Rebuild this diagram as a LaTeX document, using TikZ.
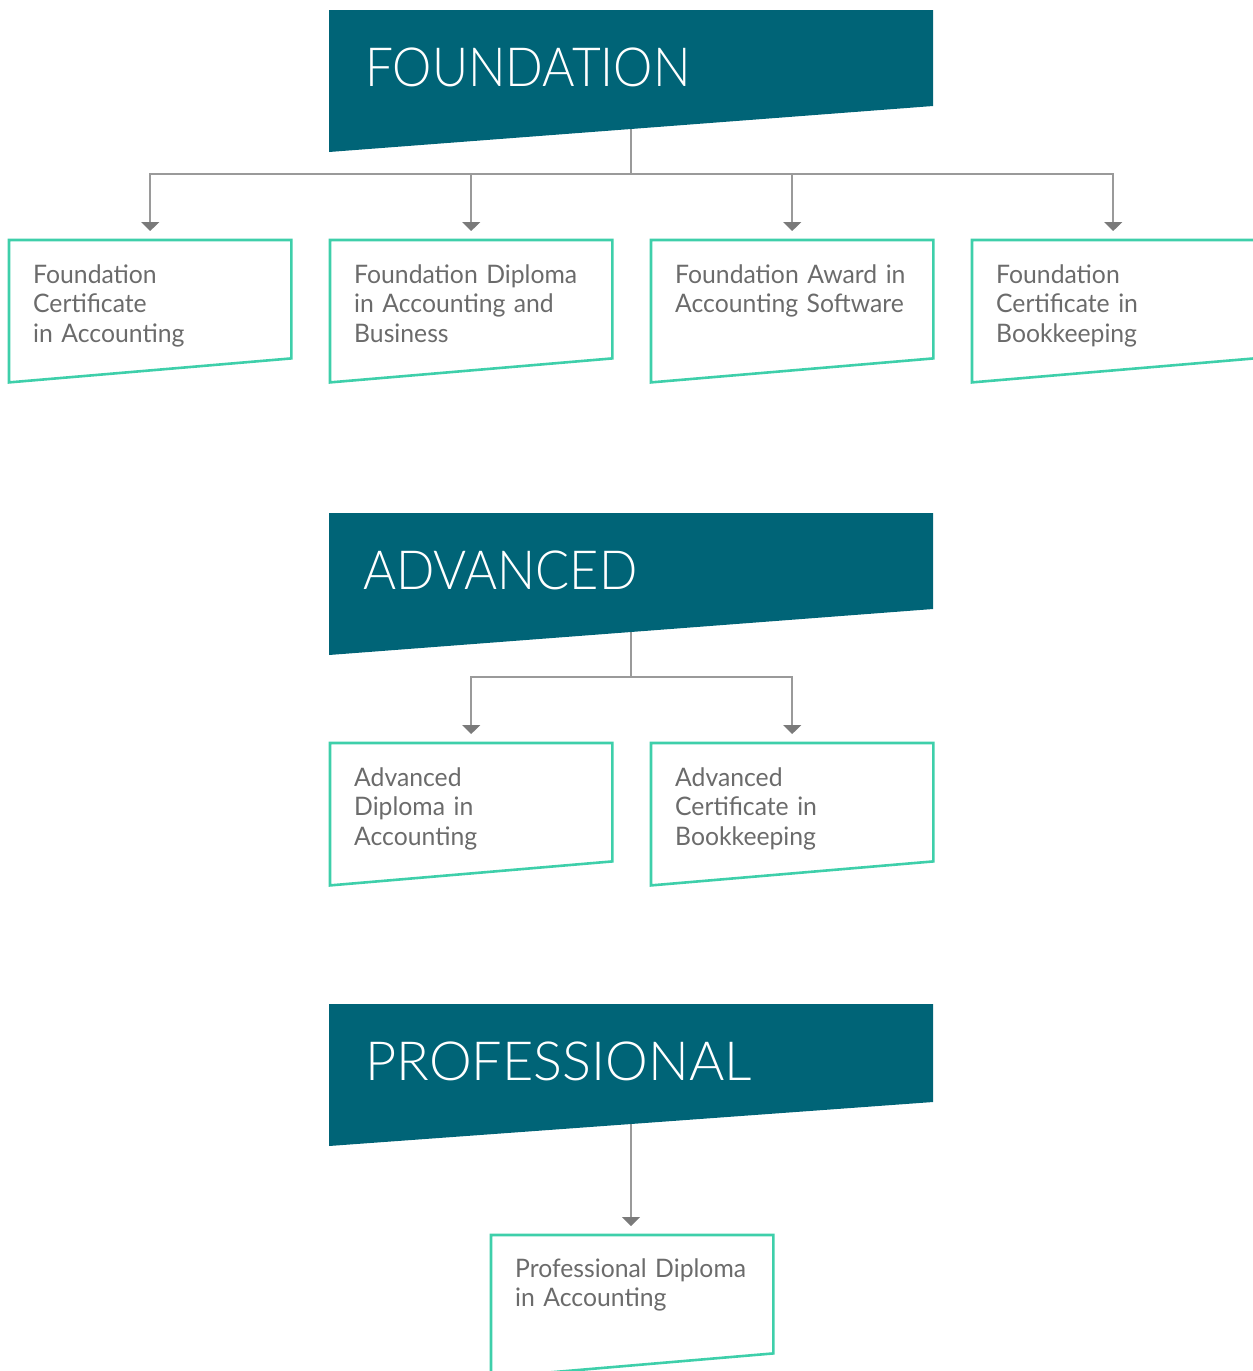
\documentclass[tikz,border=0pt]{standalone}
\usepackage{graphicx}
\usepackage{fontspec}
\setmainfont{Lato}[FakeStretch=0.97]
\newfontfamily\headfont{Lato Light}
\usetikzlibrary{arrows.meta,calc}
\definecolor{hdr}{HTML}{006477}
\definecolor{boxc}{HTML}{3ECFAA}
\definecolor{linec}{HTML}{9A9A9A}
\definecolor{tipc}{HTML}{7A7A7A}
\definecolor{txtc}{HTML}{6B6B6B}
\begin{document}
\begin{tikzpicture}[x=1pt,y=-1pt,
  header/.style={fill=hdr},
  hlabel/.style={anchor=base west, inner sep=0pt, text=white, font=\headfont\fontsize{54}{54}\selectfont},
  course/.style={rectangle, minimum width=282pt, minimum height=118pt, inner sep=0pt, anchor=north west},
  edgeline/.style={draw=boxc, line width=2.6pt, line join=miter},
  ctext/.style={anchor=base west, inner sep=0pt, text=txtc, text width=270pt, align=left, font=\fontsize{25.5}{29.5}\selectfont},
  bus/.style={draw=linec, line width=1.5pt},
  arr/.style={bus, -{Triangle[width=18pt,length=9pt,fill=tipc,color=tipc]}, shorten >=9pt}]
\clip (0,0) rectangle (1253,1371);
% ---------- FOUNDATION ----------
\coordinate (fh) at (631,129);
\coordinate (fbus) at (631,174);
\node[course] (b1) at (9,240) {};
\node[course] (b2) at (330,240) {};
\node[course] (b3) at (651,240) {};
\node[course] (b4) at (972,240) {};
\foreach \b in {b1,b2,b3,b4}{
  \draw[edgeline] (\b.north west) -- (\b.north east) -- (\b.south east) -- ([yshift=-24pt]\b.south west) -- cycle;
}
\node[ctext] (t1) at ([shift={(24,43)}]b1.north west) {Foundation\\Certificate\\in Accounting};
\node[ctext] (t2) at ([shift={(24,43)}]b2.north west) {Foundation Diploma\\in Accounting and\\Business};
\node[ctext] (t3) at ([shift={(24,43)}]b3.north west) {Foundation Award in\\Accounting Software};
\node[ctext] (t4) at ([shift={(24,43)}]b4.north west) {Foundation\\Certificate in\\Bookkeeping};
\draw[bus] (fh) -- (fbus);
\draw[arr] (fbus) -| (b1.north);
\draw[arr] (fbus) -| (b2.north);
\draw[arr] (fbus) -| (b3.north);
\draw[arr] (fbus) -| (b4.north);
\fill[header] (329,10) -- (933,10) -- (933,106) -- (329,152) -- cycle;
\node[hlabel] (fl) at (365,86) {\scalebox{0.92}[1]{FOUNDATION}};
% ---------- ADVANCED ----------
\coordinate (ah) at (631,632);
\coordinate (abus) at (631,677);
\node[course] (a1) at (330,743) {};
\node[course] (a2) at (651,743) {};
\foreach \b in {a1,a2}{
  \draw[edgeline] (\b.north west) -- (\b.north east) -- (\b.south east) -- ([yshift=-24pt]\b.south west) -- cycle;
}
\node[ctext] (u1) at ([shift={(24,43)}]a1.north west) {Advanced\\Diploma in\\Accounting};
\node[ctext] (u2) at ([shift={(24,43)}]a2.north west) {Advanced\\Certificate in\\Bookkeeping};
\draw[bus] (ah) -- (abus);
\draw[arr] (abus) -| (a1.north);
\draw[arr] (abus) -| (a2.north);
\fill[header] (329,513) -- (933,513) -- (933,609) -- (329,655) -- cycle;
\node[hlabel] (al) at (363,589) {\scalebox{0.935}[1]{ADVANCED}};
% ---------- PROFESSIONAL ----------
\coordinate (ph) at (631,1124);
\node[course] (p1) at (491,1235) {};
\draw[edgeline] (p1.north west) -- (p1.north east) -- (p1.south east) -- ([yshift=-24pt]p1.south west) -- cycle;
\node[ctext] (v1) at ([shift={(24,42)}]p1.north west) {Professional Diploma\\in Accounting};
\draw[arr] (ph) -- (ph |- p1.north);
\fill[header] (329,1004) -- (933,1004) -- (933,1102) -- (329,1146) -- cycle;
\node[hlabel] (pl) at (365,1080) {PROFESSIONAL};
\end{tikzpicture}
\end{document}
